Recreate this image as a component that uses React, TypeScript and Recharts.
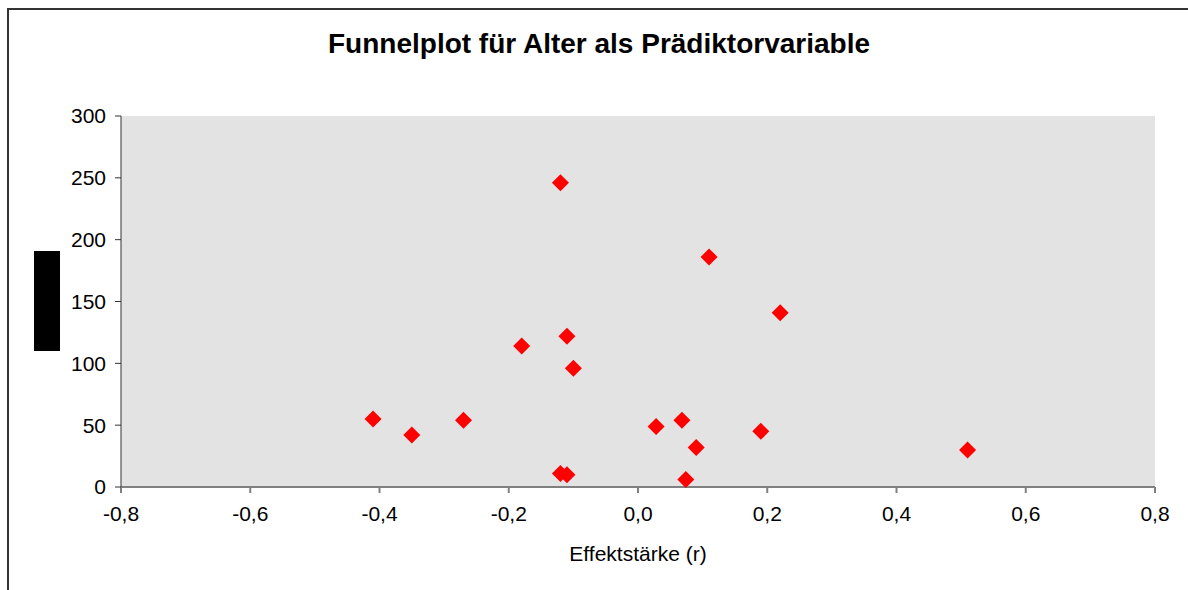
import { ScatterChart, Scatter, XAxis, YAxis, CartesianGrid, Label } from "recharts";

// effect size r and sample size N per study
const effectSizes = [-0.12, 0.11, 0.22, -0.11, -0.18, -0.1, -0.41, -0.35, -0.27, 0.028, 0.068, 0.09, 0.19, 0.51, -0.12, -0.11, 0.074];
const sampleSizes = [246, 186, 141, 122, 114, 96, 55, 42, 54, 49, 54, 32, 45, 30, 11, 10, 6];

const xTicks = [-0.8, -0.6, -0.4, -0.2, 0, 0.2, 0.4, 0.6, 0.8];
const yTicks = [0, 50, 100, 150, 200, 250, 300];

const data = effectSizes.map((r, i) => ({ r, n: sampleSizes[i] }));

const fmt = (v: number) => v.toFixed(1).replace(".", ",");

const font = "'Liberation Sans', Arial, sans-serif";

const Diamond = (props: any) => {
  const { cx, cy } = props;
  const h = 8.5;
  return (
    <polygon
      points={`${cx},${cy - h} ${cx + h},${cy} ${cx},${cy + h} ${cx - h},${cy}`}
      fill="#FF0000"
    />
  );
};

export default function App() {
  return (
    <div
      style={{
        position: "absolute",
        left: 0,
        top: 0,
        width: 1188,
        height: 590,
        overflow: "hidden",
        background: "#fff",
        fontFamily: font,
      }}
    >
      <div
        style={{
          position: "absolute",
          left: 7,
          top: 8,
          width: 1300,
          height: 700,
          borderLeft: "2px solid #333",
          borderTop: "2px solid #333",
        }}
      />
      <div
        style={{
          position: "absolute",
          left: 0,
          width: 1198,
          top: 28,
          textAlign: "center",
          fontSize: 28,
          lineHeight: "32px",
          fontWeight: "bold",
          color: "#000",
        }}
      >
        Funnelplot für Alter als Prädiktorvariable
      </div>
      <div style={{ position: "absolute", left: 0, top: 0 }}>
        <ScatterChart
          width={1188}
          height={590}
          margin={{ top: 116, right: 33, bottom: 0, left: 0 }}
        >
          <CartesianGrid fill="#E3E3E3" stroke="none" horizontal={false} vertical={false} />
          <XAxis
            type="number"
            dataKey="r"
            domain={[-0.8, 0.8]}
            ticks={xTicks}
            tickFormatter={fmt}
            height={103}
            stroke="#808080"
            strokeWidth={2}
            tickSize={6}
            tickMargin={13}
            tick={{ fill: "#000", fontSize: 21, fontFamily: font }}
            interval={0}
          >
            <Label
              value="Effektstärke (r)"
              position="insideBottom"
              offset={29}
              style={{ fill: "#000", fontSize: 21, fontFamily: font }}
            />
          </XAxis>
          <YAxis
            type="number"
            dataKey="n"
            domain={[0, 300]}
            ticks={yTicks}
            width={121}
            stroke="#333"
            tickSize={6}
            tickMargin={9}
            tick={{ fill: "#000", fontSize: 21, fontFamily: font }}
            interval={0}
          >
            <Label
              content={() => <rect x={34} y={251} width={26} height={100} fill="#000" />}
            />
          </YAxis>
          <Scatter data={data} shape={<Diamond />} isAnimationActive={false} />
        </ScatterChart>
      </div>
    </div>
  );
}
